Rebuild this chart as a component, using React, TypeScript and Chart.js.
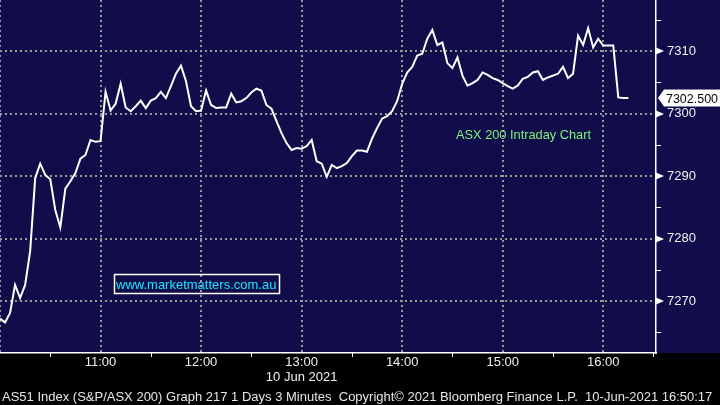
import React, { useEffect, useRef } from 'react';
import { Chart, registerables } from 'chart.js';

Chart.register(...registerables);

// ---- data ----
// ASX 200 (AS51) intraday, 3-minute bars starting 10:00
const STEP_MINUTES = 3;
const values: number[] = [
  7267.2, 7266.6, 7268.1, 7272.6, 7270.5, 7272.6, 7278.0, 7289.7, 7292.0, 7290.2,
  7289.5, 7284.6, 7281.8, 7288.0, 7289.2, 7290.5, 7292.8, 7293.4, 7295.8, 7295.5,
  7295.6, 7303.5, 7300.5, 7301.6, 7304.8, 7301.0, 7300.4, 7301.2, 7302.1, 7300.9,
  7302.1, 7302.5, 7303.5, 7302.5, 7304.4, 7306.4, 7307.7, 7305.2, 7301.2, 7300.4,
  7300.5, 7303.7, 7301.4, 7300.9, 7301.0, 7301.0, 7303.2, 7301.8, 7302.0, 7302.5,
  7303.4, 7304.0, 7303.7, 7301.4, 7300.8, 7298.8, 7296.9, 7295.3, 7294.2, 7294.5,
  7294.4, 7294.8, 7295.8, 7292.4, 7292.0, 7289.9, 7291.8, 7291.3, 7291.6, 7292.1,
  7293.2, 7294.1, 7294.1, 7293.9, 7296.0, 7297.7, 7299.2, 7299.6, 7300.4, 7302.0,
  7304.8, 7306.6, 7307.5, 7309.3, 7309.6, 7312.0, 7313.4, 7311.0, 7311.4, 7308.1,
  7307.3, 7309.0, 7306.1, 7304.5, 7304.9, 7305.4, 7306.6, 7306.2, 7305.7, 7305.4,
  7304.9, 7304.4, 7304.0, 7304.5, 7305.6, 7305.9, 7306.6, 7306.8, 7305.4, 7305.8,
  7306.1, 7306.4, 7307.5, 7305.7, 7306.4, 7312.5, 7311.0, 7313.7, 7310.6, 7312.0,
  7310.9, 7310.9, 7310.9, 7302.6, 7302.5, 7302.5,
];

// x axis: minutes after 10:00
const xTickMinutes = [0, 30, 60, 90, 120, 150, 180, 210, 240, 270, 300, 330, 360, 390];
const hourTicks = [60, 120, 180, 240, 300, 360];
const hourLabels = ['11:00', '12:00', '13:00', '14:00', '15:00', '16:00'];
const dateTick = 180;
const dateLabel = '10 Jun 2021';

// y axis
const yTickValues = [7265, 7270, 7275, 7280, 7285, 7290, 7295, 7300, 7305, 7310, 7315];
const yMajorLabels = [7270, 7280, 7290, 7300, 7310];

const chartTitle = 'ASX 200 Intraday Chart';
const websiteText = 'www.marketmatters.com.au';
const footerText =
  'AS51 Index (S&P/ASX 200) Graph 217 1 Days 3 Minutes  Copyright\u00A9 2021 Bloomberg Finance L.P.  10-Jun-2021 16:50:17';

const NAVY = '#100d4a';
const GRID = '#9a9a9a';
const FONT = "'Liberation Sans', Arial, sans-serif";

export default function App() {
  const ref = useRef<HTMLCanvasElement | null>(null);

  useEffect(() => {
    const canvas = ref.current;
    if (!canvas) return;

    const points = values.map((v, i) => ({ x: i * STEP_MINUTES, y: v }));
    const lastValue = values[values.length - 1];

    const decor = {
      id: 'decor',
      beforeDraw(chart: any) {
        const { ctx, chartArea } = chart;
        ctx.save();
        ctx.fillStyle = '#000000';
        ctx.fillRect(0, 0, chart.width, chart.height);
        ctx.fillStyle = NAVY;
        ctx.fillRect(0, 0, chart.width, chartArea.bottom);
        ctx.restore();
      },
      afterDraw(chart: any) {
        const { ctx, chartArea, scales } = chart;
        const xs = scales.x;
        const ys = scales.y;
        const right = chartArea.right;
        const bottom = chartArea.bottom;
        ctx.save();
        ctx.fillStyle = '#ffffff';
        ctx.strokeStyle = '#ffffff';
        ctx.lineWidth = 1;
        // y ticks: triangles at majors, short ticks at minors
        yTickValues.forEach((v) => {
          const py = Math.round(ys.getPixelForValue(v));
          if (yMajorLabels.includes(v)) {
            ctx.beginPath();
            ctx.moveTo(right, py - 3.5);
            ctx.lineTo(right + 8, py);
            ctx.lineTo(right, py + 3.5);
            ctx.closePath();
            ctx.fill();
          } else {
            ctx.beginPath();
            ctx.moveTo(right, py + 0.5);
            ctx.lineTo(right + 5, py + 0.5);
            ctx.stroke();
          }
        });
        // x half-hour ticks
        xTickMinutes.forEach((m) => {
          if (m % 60 === 0) return;
          const px = Math.round(xs.getPixelForValue(m)) + 0.5;
          ctx.beginPath();
          ctx.moveTo(px, bottom);
          ctx.lineTo(px, bottom + 4);
          ctx.stroke();
        });
        // last price tag
        const py = ys.getPixelForValue(lastValue);
        ctx.beginPath();
        ctx.moveTo(right + 2, py);
        ctx.lineTo(right + 8, py - 8.5);
        ctx.lineTo(chart.width, py - 8.5);
        ctx.lineTo(chart.width, py + 8.5);
        ctx.lineTo(right + 8, py + 8.5);
        ctx.closePath();
        ctx.fillStyle = '#ffffff';
        ctx.fill();
        ctx.fillStyle = '#000000';
        ctx.font = `13px ${FONT}`;
        ctx.textAlign = 'left';
        ctx.textBaseline = 'middle';
        ctx.fillText(lastValue.toFixed(3), right + 10, py + 1, 52);
        // title annotation
        ctx.fillStyle = '#7cf27c';
        ctx.fillText(chartTitle, 456, 135, 135);
        // website box
        ctx.strokeStyle = '#ffffff';
        ctx.lineWidth = 1.5;
        ctx.strokeRect(114.5, 274.5, 165, 19);
        ctx.fillStyle = '#1ee6ff';
        ctx.fillText(websiteText, 116, 285, 161);
        // footer
        ctx.fillStyle = '#e6e6e6';
        ctx.fillText(footerText, 2, 397, 716);
        ctx.restore();
      },
    };

    const chart = new Chart(canvas, {
      type: 'line',
      data: {
        datasets: [
          {
            data: points,
            borderColor: '#ffffff',
            borderWidth: 2,
            pointRadius: 0,
            tension: 0,
            fill: false,
          },
        ],
      },
      options: {
        responsive: false,
        animation: false,
        devicePixelRatio: 1,
        layout: { padding: 0 },
        plugins: { legend: { display: false }, tooltip: { enabled: false } },
        scales: {
          x: {
            type: 'linear',
            min: 0,
            max: 391.5,
            afterBuildTicks: (s: any) => {
              s.ticks = xTickMinutes.map((v) => ({ value: v }));
            },
            afterFit: (s: any) => {
              s.height = 52;
              s.paddingLeft = 0;
              s.paddingRight = 0;
            },
            grid: {
              color: (c: any) => (c.tick && c.tick.value % 60 === 0 ? GRID : 'rgba(0,0,0,0)'),
              lineWidth: 2,
              drawTicks: false,
            },
            border: { display: true, color: '#ffffff', width: 1.5, dash: [2, 3] },
            ticks: {
              autoSkip: false,
              maxRotation: 0,
              padding: 2,
              color: '#f0f0f0',
              font: { family: FONT, size: 13, lineHeight: 1.15 },
              callback: (value: any) => {
                const idx = hourTicks.indexOf(value);
                if (idx < 0) return '';
                return value === dateTick ? [hourLabels[idx], dateLabel] : hourLabels[idx];
              },
            },
          },
          y: {
            type: 'linear',
            position: 'right',
            min: 7261.7,
            max: 7318.2,
            afterBuildTicks: (s: any) => {
              s.ticks = yTickValues.map((v) => ({ value: v }));
            },
            afterFit: (s: any) => {
              s.width = 64;
              s.paddingTop = 0;
              s.paddingBottom = 0;
            },
            grid: {
              color: (c: any) => (c.tick && yMajorLabels.includes(c.tick.value) ? GRID : 'rgba(0,0,0,0)'),
              lineWidth: 2,
              drawTicks: false,
            },
            border: { display: true, color: '#ffffff', width: 1.5, dash: [2, 3] },
            ticks: {
              padding: 11,
              color: '#f0f0f0',
              font: { family: FONT, size: 13 },
              callback: (value: any) => (yMajorLabels.includes(value) ? String(value) : null),
            },
          },
        },
      },
      plugins: [decor],
    });

    return () => chart.destroy();
  }, []);

  return (
    <canvas
      ref={ref}
      width={720}
      height={405}
      style={{ position: 'fixed', left: 0, top: 0, width: 720, height: 405, display: 'block' }}
    />
  );
}
